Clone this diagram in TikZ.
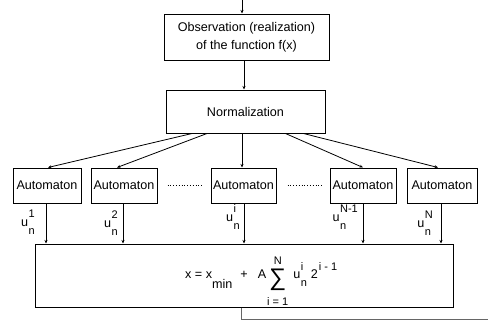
\documentclass[tikz,border=0pt]{standalone}
\usepackage{fontspec}
\setmainfont{Liberation Sans}
\usetikzlibrary{arrows.meta}

\tikzset{
	block/.style={draw=black, line width=1pt, inner sep=0pt, align=center, minimum height=35pt},
	flow/.style={line width=0.8pt, -{Stealth[length=3.5pt,width=3pt]}},
	ulabel/.style={inner sep=0pt, anchor=base east}
}
% u with n below and an index above, set apart like the scan
\newcommand{\ustack}[3]{u\kern0.5pt\raisebox{-#1}{\fontsize{11}{11}\selectfont\begin{tabular}[b]{@{}l@{}}#3\\[#2]n\end{tabular}}}
\newcommand{\ulab}[1]{\ustack{8.5pt}{6pt}{#1}}
\newcommand{\smallsz}{\fontsize{11}{11}\selectfont}

\begin{document}
\begin{tikzpicture}[x=1pt, y=-1pt, font=\fontsize{12.6}{18}\selectfont]
			%%%%% START %%%%%
			\useasboundingbox (0,0) rectangle (488,324);
			
			\coordinate (in) at (242, 0);
			\coordinate (out) at (488, 319);
			
			\node[block, minimum width=165pt, minimum height=46pt] (obs) at (246.5, 37) {Observation (realization)\\of the function f(x)};
			\node[block, minimum width=159pt, minimum height=43pt] (norm) at (245.5, 111.5) {Normalization};
			
			\node[block, minimum width=68pt] (a1) at (47, 185.5) {Automaton};
			\node[block, minimum width=66pt] (a2) at (124, 185.5) {Automaton};
			\node[block, minimum width=65pt] (a3) at (243.5, 185.5) {Automaton};
			\node[block, minimum width=66pt] (a4) at (363, 185.5) {Automaton};
			\node[block, minimum width=70pt] (a5) at (442, 185.5) {Automaton};
			
			\node[block, minimum width=418pt, minimum height=63pt] (sum) at (244, 275.5) {};
			\node[inner sep=0pt, anchor=base west] (frm) at (185, 278) {x = x\raisebox{-10pt}{min}\hspace{8pt}+\hspace{10pt}A\hspace{1pt}$\mathop{\raisebox{-7pt}{\fontsize{24}{24}\selectfont ∑}}\limits^{\mbox{\smallsz\rule[-2.5pt]{0pt}{2.5pt}N}}_{\mbox{\smallsz\rule{0pt}{14pt}i = 1}}$\hspace{5pt}\ustack{8pt}{5pt}{i}\hspace{4pt}2\hspace{1pt}\raisebox{8pt}{\smallsz i - 1}};
			
			% labels of the automata outputs
			\node[ulabel] (u1) at (35, 226) {\ulab{1}};
			\node[ulabel] (u2) at (118, 227) {\ulab{2}};
			\node[ulabel] (ui) at (240, 221) {\ulab{i}};
			\node[ulabel] (uN1) at (358, 221) {\ulab{N-1}};
			\node[ulabel] (uN) at (433, 227) {\ulab{N}};
			
			% top of the chain
			\draw[flow] (in) -- (in |- obs.north);
			\draw[flow] ([xshift=-2.5pt]obs.south) -- ([xshift=-2.5pt]obs.south |- norm.north);
			
			% fan out to the automata
			\draw[flow] ([xshift=26.5pt]norm.south west) -- ([xshift=1pt]a1.north);
			\draw[flow] ([xshift=41.5pt]norm.south west) -- ([xshift=-7pt]a2.north);
			\draw[flow] ([xshift=-3.5pt]norm.south) -- ([xshift=-1.5pt]a3.north);
			\draw[flow] ([xshift=-40pt]norm.south east) -- (a4.north);
			\draw[flow] ([xshift=-22pt]norm.south east) -- ([xshift=-4pt]a5.north);
			
			\draw[line width=0.8pt, dotted] ([xshift=10pt]a2.east) -- ([xshift=-8pt]a3.west);
			\draw[line width=0.8pt, dotted] ([xshift=11pt]a3.east) -- ([xshift=-7pt]a4.west);
			
			% outputs into the sum
			\draw[flow] ([xshift=-1pt]a1.south) -- ([xshift=-1pt]a1.south |- sum.north);
			\draw[flow] ([xshift=-1pt]a2.south) -- ([xshift=-1pt]a2.south |- sum.north);
			\draw[flow] ([xshift=0.5pt]a3.south) -- ([xshift=0.5pt]a3.south |- sum.north);
			\draw[flow] (a4.south) -- (a4.south |- sum.north);
			\draw[flow] ([xshift=-1pt]a5.south) -- ([xshift=-1pt]a5.south |- sum.north);
			
			% result goes out
			\draw[line width=0.8pt, black!60] ([xshift=-3pt]sum.south) |- (out);
			%%%%% END %%%%%
\end{tikzpicture}
\end{document}
